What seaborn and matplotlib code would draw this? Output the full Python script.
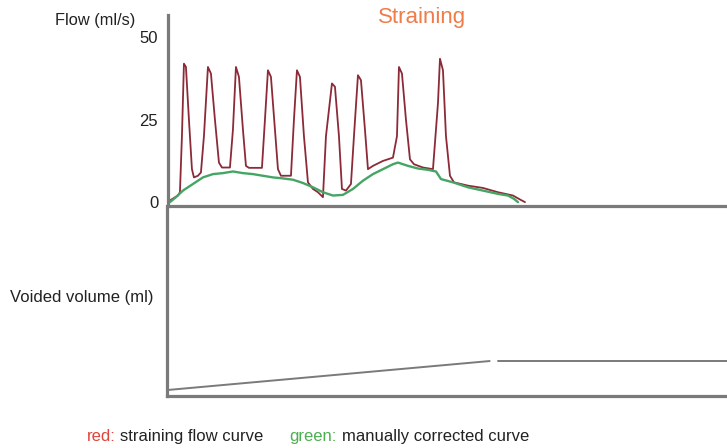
import numpy as np
import pandas as pd
import seaborn as sns
import matplotlib.pyplot as plt

# tiempo (unidades arbitrarias) y flujo en ml/s
red_t = [0.2, 1.0, 1.2, 1.4, 1.6, 1.8, 2.1, 2.4, 2.6, 3.0, 3.3, 3.6, 4.0, 4.3, 4.7, 5.1, 5.4,
         6.2, 6.5, 6.8, 7.1, 7.5, 7.8, 8.1, 9.4, 9.7, 10.0, 10.3, 10.7, 11.0, 11.3, 12.3,
         12.6, 12.9, 13.2, 13.6, 14.0, 14.5, 15.0, 15.5, 15.8, 16.4, 16.7, 17.1, 17.4, 17.8,
         18.3, 18.6, 19.0, 19.3, 19.7, 20.0, 20.5, 21.5, 22.5, 22.9, 23.1, 23.4, 23.8, 24.2,
         24.6, 25.5, 26.5, 27.0, 27.2, 27.5, 27.8, 28.2, 28.6, 30.0, 31.5, 33.0, 34.5, 35.2, 35.7]
red_flow = [0.5, 2, 3, 20, 42, 41, 25, 10, 7.5, 8, 9, 20, 41, 39, 25, 12, 10.5,
            10.5, 22, 41, 38, 22, 11, 10.4, 10.4, 25, 40, 38, 22, 10, 8, 8,
            25, 40, 38, 20, 6, 4, 3, 1.5, 20, 36, 35, 20, 4, 3.5,
            5.5, 20, 38.5, 37, 22, 10, 11, 12.5, 13.5, 20, 41, 39, 25, 13,
            11.5, 10.5, 10, 30, 43.5, 40, 20, 8, 6, 5, 4.3, 3, 2, 0.8, 0]

green_t = [0.2, 0.8, 1.5, 2.5, 3.5, 4.5, 5.5, 6.5, 7.5, 8.5, 9.5, 10.5, 11.5, 12.5, 13.5,
           14.5, 15.5, 16.5, 17.5, 18.5, 19.5, 20.5, 21.5, 22.5, 23.0, 24.0, 25.0, 26.0,
           26.8, 27.3, 28.5, 30.0, 31.5, 33.0, 34.0, 34.6, 35.0]
green_flow = [0, 1.5, 3.5, 5.5, 7.5, 8.5, 8.8, 9.3, 8.8, 8.5, 8, 7.5, 7.2, 6.8, 5.8,
              4.5, 3, 2, 2.2, 4, 6.5, 8.5, 10, 11.5, 12, 11, 10.2, 9.8,
              9.3, 7, 6, 4.5, 3.5, 2.5, 2, 1, 0]

vol_t1 = [0, 32.2]
vol_1 = [0, 300]
vol_t2 = [33.0, 55.9]
vol_2 = [300, 300]

flow_ticks = [0, 25, 50]

sns.set_style("white")
plt.rcParams['font.family'] = ['Liberation Sans', 'DejaVu Sans']

fig = plt.figure(figsize=(7.27, 4.48), dpi=100)
ax2 = fig.add_axes([0.230, 0.116, 0.770, 0.424])
ax1 = fig.add_axes([0.231, 0.540, 0.769, 0.426])
ax1.set_zorder(3)
ax1.patch.set_visible(False)

gris = "#7a7a7a"

sns.lineplot(x=red_t, y=red_flow, ax=ax1, color="#8c2a38", linewidth=1.3, sort=False)
sns.lineplot(x=green_t, y=green_flow, ax=ax1, color="#45a564", linewidth=1.7, sort=False)
ax1.set_xlim(0, 55.9)
ax1.set_ylim(-1.2, 56.7)
ax1.set_yticks(flow_ticks)
ax1.set_yticklabels([str(v) for v in flow_ticks])
ax1.set_xticks([])
ax1.tick_params(axis="y", length=0, pad=7, labelsize=12, colors="#222222")
for s in ["top", "right"]:
    ax1.spines[s].set_visible(False)
for s in ["left", "bottom"]:
    ax1.spines[s].set_color(gris)
    ax1.spines[s].set_linewidth(2.3)

sns.lineplot(x=vol_t1, y=vol_1, ax=ax2, color=gris, linewidth=1.4)
sns.lineplot(x=vol_t2, y=vol_2, ax=ax2, color=gris, linewidth=1.4)
ax2.set_xlim(0, 55.9)
ax2.set_ylim(-62, 1903)
ax2.set_xticks([])
ax2.set_yticks([])
for s in ["top", "right"]:
    ax2.spines[s].set_visible(False)
for s in ["left", "bottom"]:
    ax2.spines[s].set_color(gris)
    ax2.spines[s].set_linewidth(2.3)

fig.text(55 / 727, 1 - 20 / 448, "Flow (ml/s)", fontsize=11.8, va="center", ha="left", color="#222222")
fig.text(422 / 727, 1 - 17 / 448, "Straining", fontsize=16, va="center", ha="center", color="#f07c4a")
fig.text(10 / 727, 1 - 297 / 448, "Voided volume (ml)", fontsize=12, va="center", ha="left", color="#222222")

ly = 1 - 436 / 448
fig.text(87 / 727, ly, "red:", fontsize=12, va="center", ha="left", color="#e0443a")
fig.text(120 / 727, ly, "straining flow curve", fontsize=12, va="center", ha="left", color="#222222")
fig.text(289 / 727, ly, "green:", fontsize=12, va="center", ha="left", color="#4caf50")
fig.text(342 / 727, ly, "manually corrected curve", fontsize=12, va="center", ha="left", color="#222222")

fig.savefig("out.png", dpi=100)
